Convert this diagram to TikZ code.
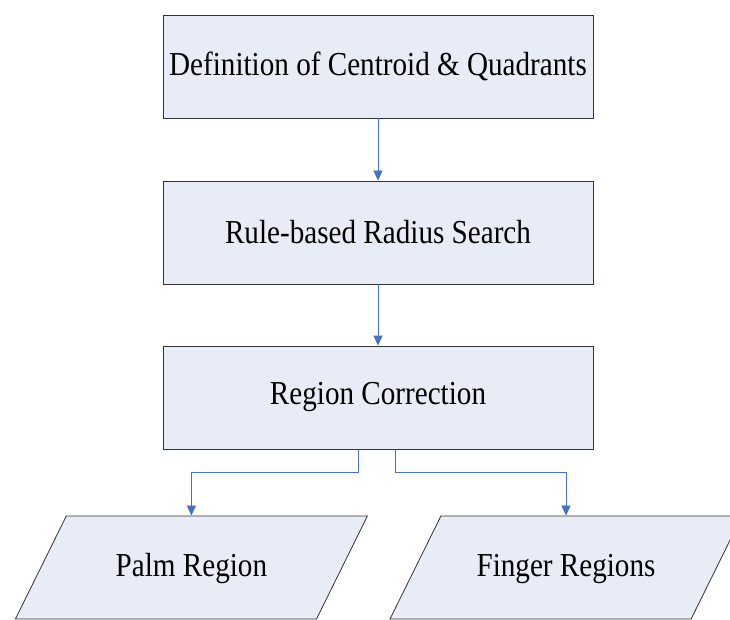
\documentclass[tikz,border=0pt]{standalone}
\usepackage{fontspec}
\setmainfont{Liberation Serif}[FakeStretch=0.87]
\usetikzlibrary{arrows.meta,shapes.geometric}
\definecolor{boxfill}{RGB}{231,236,247}
\definecolor{linkblue}{RGB}{68,114,196}
\begin{document}
\begin{tikzpicture}[x=1pt, y=1pt,
        stepbox/.style={rectangle, draw=black!80, line width=0.8pt, fill=boxfill,
            minimum width=430pt, minimum height=103pt, inner sep=0pt,
            font=\fontsize{33.5}{38}\selectfont},
        outbox/.style={trapezium, trapezium left angle=63.7, trapezium right angle=116.3,
            trapezium stretches body=true, draw=black!80, line width=0.8pt, fill=boxfill,
            text height=24pt, text depth=7pt, inner xsep=0pt, inner ysep=36pt,
            minimum width=352pt, font=\fontsize{33.5}{38}\selectfont},
        link/.style={draw=linkblue, line width=0.8pt, -{Triangle[width=9pt,length=10pt]}}]
            \useasboundingbox (0,0) rectangle (730,619);
            \clip (0,0) rectangle (730,619);

            \node (cent) at (378,552.5) [stepbox] {Definition of Centroid \& Quadrants};
            \node (radius) at (378,386.5) [stepbox] {Rule-based Radius Search};
            \node (corr) at (378,221.5) [stepbox] {Region Correction};

            \node (palm) at (191.4,51.5) [outbox] {Palm Region};
            \node (finger) at (566,51.5) [outbox] {Finger Regions};

            \draw[link] (cent) -- (radius);
            \draw[link] (radius) -- (corr);
            \draw[link] ([xshift=-19.5pt]corr.south) -- ++(0,-23) -| (palm.north);
            \draw[link] ([xshift=17.7pt]corr.south) -- ++(0,-23) -| (finger.north);

        \end{tikzpicture}
\end{document}
